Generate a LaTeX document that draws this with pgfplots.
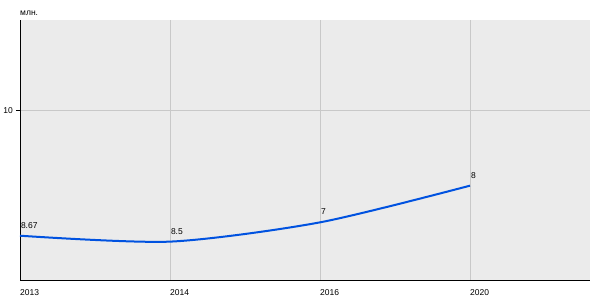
\documentclass[border=0pt]{standalone}
\usepackage{pgfplots}
\pgfplotsset{compat=1.18}
\usepackage{fontspec}
\setmainfont{Liberation Sans}
\definecolor{bgc}{RGB}{235,235,235}
\definecolor{gridc}{RGB}{200,200,200}
\definecolor{linec}{RGB}{0,82,224}
\begin{document}
\begin{tikzpicture}
\path[use as bounding box] (0,0) rectangle (600bp,300bp);
\begin{axis}[
  at={(20bp,20bp)}, anchor=south west,
  scale only axis, width=570bp, height=260bp,
  xmin=0, xmax=3.8, ymin=0, ymax=15.38,
  axis background/.style={fill=bgc},
  axis x line*=bottom, axis y line*=left,
  axis line style={black, line width=1bp, -},
  xtick={0,1,2,3}, xticklabels={2013,2014,2016,2020},
  ytick={10},
  grid=major, major grid style={gridc, line width=1bp},
  x tick style={draw=none},
  y tick style={black, line width=1bp},
  major tick length=4bp,
  tick align=outside,
  /pgf/number format/assume math mode=true,
  tick label style={font=\fontsize{8.5bp}{10bp}\selectfont},
  xticklabel style={anchor=north west, inner sep=0pt, yshift=-5bp},
  yticklabel style={anchor=east, inner sep=0pt, xshift=-3bp},
  clip=false,
]
\addplot[linec, line width=2bp, smooth, tension=0.45,
  nodes near coords, point meta=explicit symbolic,
  every node near coord/.style={anchor=south west, inner sep=0pt, yshift=6.5bp, black, font=\fontsize{8.5bp}{10bp}\selectfont}]
  coordinates {(0,2.62) [8.67] (1,2.27) [8.5] (2,3.41) [7] (3,5.58) [8]};
\node[anchor=base west, inner sep=0pt, font=\fontsize{8.5bp}{10bp}\selectfont] at (rel axis cs:0,1) [yshift=4.5bp] {млн.};
\end{axis}
\end{tikzpicture}
\end{document}
